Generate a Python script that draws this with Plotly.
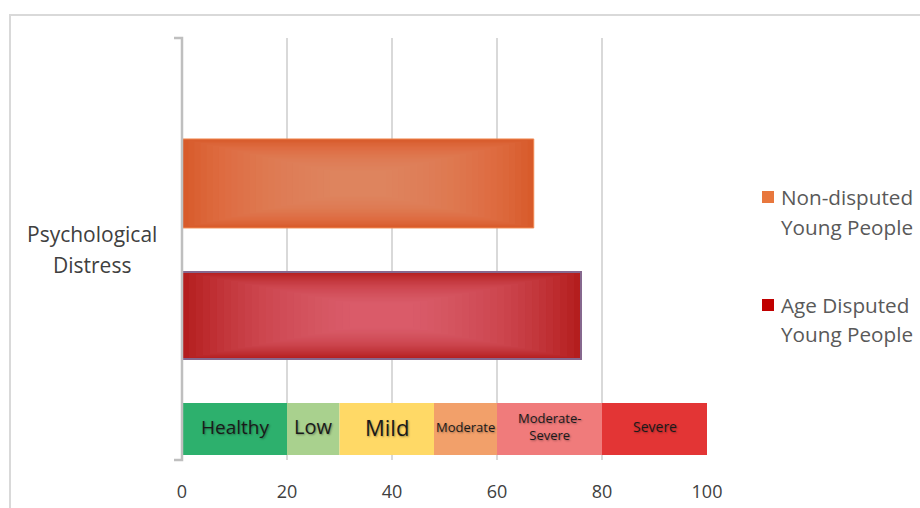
import plotly.graph_objects as go
from itertools import accumulate

# ---------------- data ----------------
category = "Psychological Distress"
series_names = ["Non-disputed Young People", "Age Disputed Young People"]
non_disputed = [67]
age_disputed = [76]
severity_labels = ["Healthy", "Low", "Mild", "Moderate", "Moderate-<br>Severe", "Severe"]
severity_widths = [20, 10, 18, 12, 20, 20]
x_ticks = [0, 20, 40, 60, 80, 100]

# ---------------- styles / layout constants ----------------
severity_colors = ["#2DB06D", "#A9D18E", "#FFD966", "#F2A06A", "#F07B7B", "#E33535"]
severity_font_sizes = [19, 20, 22, 13, 13, 14]
series_edge = ["#D85B2B", "#B41E1E"]
series_glow = ["rgba(231,158,126,0.06)", "rgba(238,125,128,0.06)"]
series_line = ["#F0874F", "#86688E"]
series_line_w = [1, 2]
legend_colors = ["#E8773D", "#C00000"]
series_y = [2, 1]
series_w = [0.674, 0.66]
band_y = 0.14
band_w = 0.394
FONT = "Open Sans"

W, H = 920, 508
L, R, T, B = 182, 213, 38, 48
pw, ph = W - L - R, H - T - B


def px_x(p):
    return (p - L) / pw


def px_y(p):
    return (H - B - p) / ph


starts = [0] + list(accumulate(severity_widths))[:-1]

fig = go.Figure()

for name, vals, edge, glow, lc, lw, yp, w in zip(series_names, [non_disputed, age_disputed],
                                                series_edge, series_glow, series_line,
                                                series_line_w, series_y, series_w):
    fig.add_trace(go.Bar(
        name=name, orientation="h", y=[yp], x=vals, base=[0], width=w,
        marker=dict(color=edge, line=dict(color=lc, width=lw)),
        hovertemplate=name + ": %{x}<extra></extra>", showlegend=False,
    ))
    # soft central glow built from concentric layers of the same bar
    n = 24
    for i in range(1, n + 1):
        t = i / n
        inset = 0.42 * t
        fig.add_trace(go.Bar(
            orientation="h", y=[yp], x=[v * (1 - 2 * inset) for v in vals],
            base=[v * inset for v in vals],
            width=w * (1 - 0.72 * t),
            marker=dict(color=glow, line=dict(width=0)),
            showlegend=False, hoverinfo="skip",
        ))

fig.add_trace(go.Bar(
    orientation="h", y=[band_y] * len(severity_widths), x=severity_widths, base=starts,
    width=band_w, marker=dict(color=severity_colors, line=dict(width=0)),
    showlegend=False, hovertext=[l.replace("<br>", "") for l in severity_labels], hoverinfo="text",
))

annotations = []
for lab, st, wd, fs in zip(severity_labels, starts, severity_widths, severity_font_sizes):
    annotations.append(dict(
        x=st + wd / 2, y=band_y, xref="x", yref="y", text=lab, showarrow=False, yshift=2,
        font=dict(family=FONT, size=fs, color="#1a1a1a", shadow="1px 1px 2px rgba(0,0,0,0.35)"),
    ))

# category label (two lines, wide line spacing as in reference)
for line, yy in zip(category.split(" "), [234, 265]):
    annotations.append(dict(
        x=px_x(92), y=px_y(yy), xref="paper", yref="paper", text=line, showarrow=False,
        xanchor="center", yanchor="middle",
        font=dict(family=FONT, size=21, color="#404040"),
    ))

shapes = [
    # outer chart frame
    dict(type="path", xref="paper", yref="paper",
         path=f"M {px_x(10)},{px_y(512)} L {px_x(10)},{px_y(15)} L {px_x(925)},{px_y(15)}",
         line=dict(color="#D9D9D9", width=2)),
    # bracket-style vertical axis
    dict(type="path", xref="paper", yref="paper",
         path=f"M {px_x(174)},1 L 0,1 L 0,0 L {px_x(174)},0",
         line=dict(color="#BFBFBF", width=2.5)),
]

# legend (drawn manually so it doesn't shrink the plot area)
legend_rows = [(197, 227), (305, 334)]
for name, col, (y1, y2) in zip(series_names, legend_colors, legend_rows):
    words = name.split(" ")
    lines = [" ".join(words[:-2]), " ".join(words[-2:])]
    shapes.append(dict(type="rect", xref="paper", yref="paper",
                       x0=px_x(762), x1=px_x(774), y0=px_y(y1 + 6), y1=px_y(y1 - 6),
                       fillcolor=col, line=dict(width=0)))
    for ln, yy in zip(lines, (y1, y2)):
        annotations.append(dict(
            x=px_x(779), y=px_y(yy), xref="paper", yref="paper", text=ln, showarrow=False,
            xanchor="left", yanchor="middle",
            font=dict(family=FONT, size=20.7, color="#595959"),
        ))

fig.update_layout(
    width=W, height=H,
    margin=dict(l=L, r=R, t=T, b=B, autoexpand=False),
    paper_bgcolor="white", plot_bgcolor="white",
    barmode="overlay",
    showlegend=False,
    xaxis=dict(
        range=[0, 100], tickvals=x_ticks, ticktext=[str(t) for t in x_ticks],
        showgrid=True, gridcolor="#D9D9D9", gridwidth=1.5,
        zeroline=False, showline=False, automargin=False,
        ticks="outside", ticklen=15, tickcolor="rgba(0,0,0,0)",
        tickfont=dict(family=FONT, size=18, color="#404040"),
    ),
    yaxis=dict(
        range=[-0.095, 3.102], showticklabels=False, showgrid=False,
        zeroline=False, showline=False, fixedrange=True, automargin=False,
    ),
    annotations=annotations,
    shapes=shapes,
    font=dict(family=FONT),
)

fig.write_html("out.html")
